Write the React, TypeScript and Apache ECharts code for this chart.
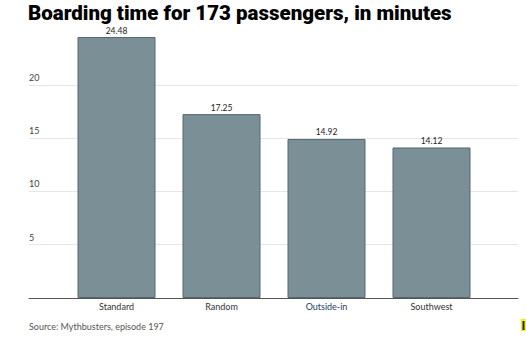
import React, { useEffect, useRef } from "react";
import * as echarts from "echarts";

const categories = ["Standard", "Random", "Outside-in", "Southwest"];
const boardingMinutes = [24.48, 17.25, 14.92, 14.12];
const yTicks = [0, 5, 10, 15, 20, 25];

export default function App() {
  const ref = useRef<HTMLDivElement>(null);
  useEffect(() => {
    if (!ref.current) return;
    const chart = echarts.init(ref.current, null, { renderer: "svg" });
    const font = "Lato, 'Open Sans', sans-serif";
    chart.setOption({
      animation: false,
      title: {
        text: "Boarding time for 173 passengers, in minutes",
        left: 28,
        top: 0,
        padding: 0,
        textStyle: {
          fontFamily: "Roboto",
          fontWeight: 900,
          fontSize: 20.5,
          lineHeight: 26,
          color: "#000",
        },
      },
      graphic: [
        {
          type: "text",
          left: 29,
          top: 322,
          style: {
            text: "Source: Mythbusters, episode 197",
            fontFamily: font,
            fontSize: 9,
            fill: "#555",
          },
        },
        { type: "rect", shape: { x: 521, y: 319, width: 5, height: 12 }, style: { fill: "#f5f000" } },
        { type: "rect", shape: { x: 522.5, y: 321, width: 2, height: 9 }, style: { fill: "#1d2a55" } },
      ],
      grid: [
        { left: 29, right: 8, top: 31.5, bottom: 42 },
        { left: 64, right: 42, top: 31.5, bottom: 42 },
      ],
      xAxis: [
        {
          type: "value",
          gridIndex: 0,
          min: 0,
          max: 1,
          axisLine: { show: true, onZero: false, lineStyle: { color: "#555", width: 1 } },
          axisTick: { show: false },
          axisLabel: { show: false },
          splitLine: { show: false },
        },
        {
          type: "category",
          gridIndex: 1,
          data: categories.map((c) =>
            c === "Outside-in" ? { value: c, textStyle: { color: "#24406a" } } : c
          ),
          axisLine: { show: false },
          axisTick: { show: false },
          axisLabel: { fontFamily: font, fontSize: 9, color: "#333", margin: 4 },
        },
      ],
      yAxis: [
        {
          type: "value",
          gridIndex: 0,
          min: yTicks[0],
          max: yTicks[yTicks.length - 1],
          interval: 5,
          axisLine: { show: false },
          axisTick: { show: false },
          axisLabel: {
            inside: true,
            showMinLabel: false,
            showMaxLabel: false,
            margin: 0,
            verticalAlign: "bottom",
            padding: [0, 0, 3, 0],
            fontFamily: font,
            fontSize: 9,
            color: "#444",
          },
          splitLine: {
            show: true,
            lineStyle: {
              color: ["transparent", "#e6e6e6", "#e6e6e6", "#e6e6e6", "#e6e6e6", "transparent"],
              width: 1,
            },
          },
        },
        {
          type: "value",
          gridIndex: 1,
          min: yTicks[0],
          max: yTicks[yTicks.length - 1],
          interval: 5,
          show: false,
          splitLine: { show: false },
        },
      ],
      series: [
        {
          type: "bar",
          xAxisIndex: 1,
          yAxisIndex: 1,
          data: boardingMinutes,
          barWidth: 78,
          itemStyle: { color: "#7b8f97", borderColor: "#56676e", borderWidth: 1 },
          label: {
            show: true,
            position: "top",
            distance: 2,
            fontFamily: font,
            fontSize: 8.5,
            color: "#222",
            formatter: (p: any) => p.value.toFixed(2),
          },
        },
      ],
    });
    return () => chart.dispose();
  }, []);
  return <div ref={ref} style={{ width: 526, height: 340, position: "absolute", left: 0, top: 0 }} />;
}
